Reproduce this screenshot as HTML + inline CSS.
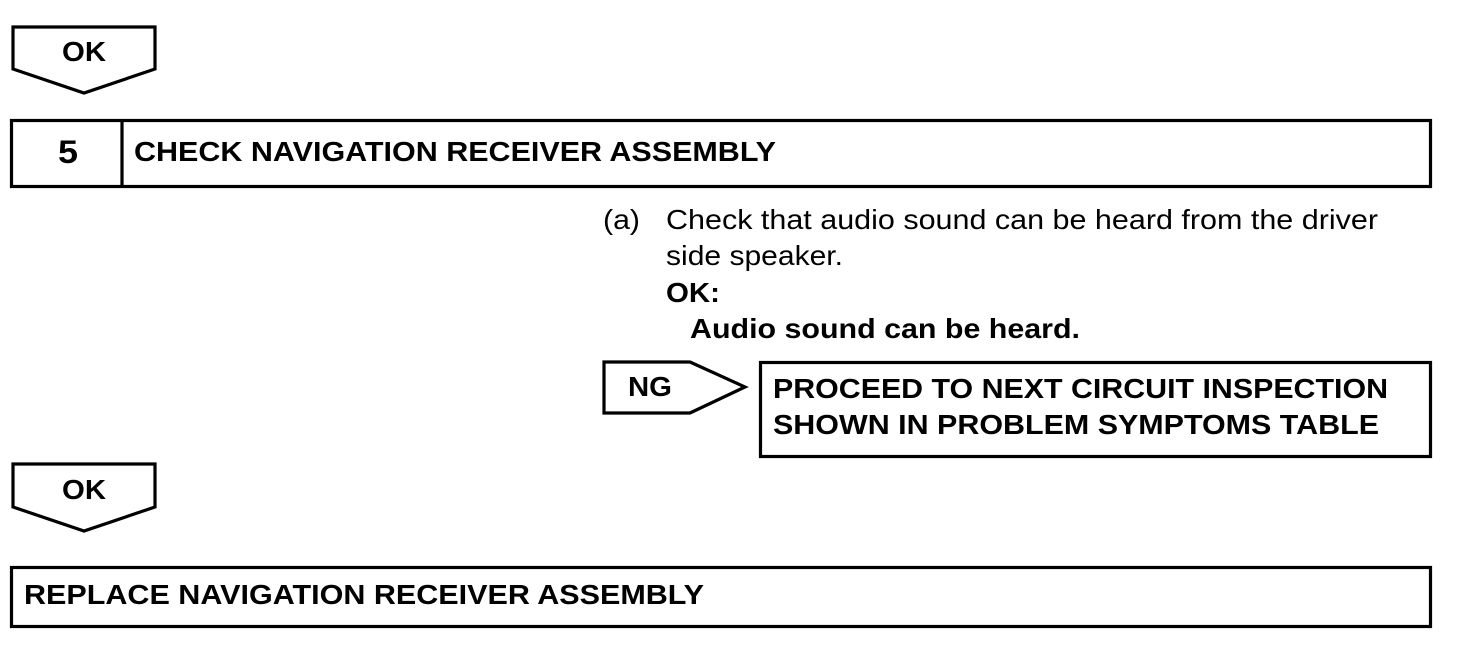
<!DOCTYPE html>
<html><head><style>body{margin:0;background:#fff}svg{display:block}text{font-family:"Liberation Sans",sans-serif;fill:#000}</style></head><body>
<svg width="1472" height="650" viewBox="0 0 1472 650">
<g fill="none" stroke="#000" stroke-width="3.2">
<polygon points="13,27 155,27 155,69 84,93 13,69"/>
<rect x="11.5" y="120.5" width="1419" height="66"/>
<line x1="122" y1="120" x2="122" y2="187"/>
<polygon points="604,362 690,362 745,387 690,413 604,413"/>
<rect x="760.5" y="362.5" width="670" height="94"/>
<polygon points="13,464 155,464 155,507 84,531 13,507"/>
<rect x="11.5" y="567.5" width="1419" height="59"/>
</g>
<g font-weight="bold" font-size="28" lengthAdjust="spacingAndGlyphs">
<text x="62" y="61" textLength="44" lengthAdjust="spacingAndGlyphs">OK</text>
<text x="58" y="163" font-size="32" textLength="20" lengthAdjust="spacingAndGlyphs">5</text>
<text x="134" y="161" textLength="642" lengthAdjust="spacingAndGlyphs">CHECK NAVIGATION RECEIVER ASSEMBLY</text>
<text x="666" y="302" textLength="54" lengthAdjust="spacingAndGlyphs">OK:</text>
<text x="690" y="338" textLength="390" lengthAdjust="spacingAndGlyphs">Audio sound can be heard.</text>
<text x="628" y="396" textLength="44" lengthAdjust="spacingAndGlyphs">NG</text>
<text x="773" y="398" textLength="615" lengthAdjust="spacingAndGlyphs">PROCEED TO NEXT CIRCUIT INSPECTION</text>
<text x="773" y="434" textLength="606" lengthAdjust="spacingAndGlyphs">SHOWN IN PROBLEM SYMPTOMS TABLE</text>
<text x="62" y="499" textLength="44" lengthAdjust="spacingAndGlyphs">OK</text>
<text x="24" y="604" textLength="680" lengthAdjust="spacingAndGlyphs">REPLACE NAVIGATION RECEIVER ASSEMBLY</text>
</g>
<g font-size="28">
<text x="603" y="229" textLength="37" lengthAdjust="spacingAndGlyphs">(a)</text>
<text x="666" y="229" textLength="712" lengthAdjust="spacingAndGlyphs">Check that audio sound can be heard from the driver</text>
<text x="666" y="265" textLength="177" lengthAdjust="spacingAndGlyphs">side speaker.</text>
</g>
</svg>
</body></html>
